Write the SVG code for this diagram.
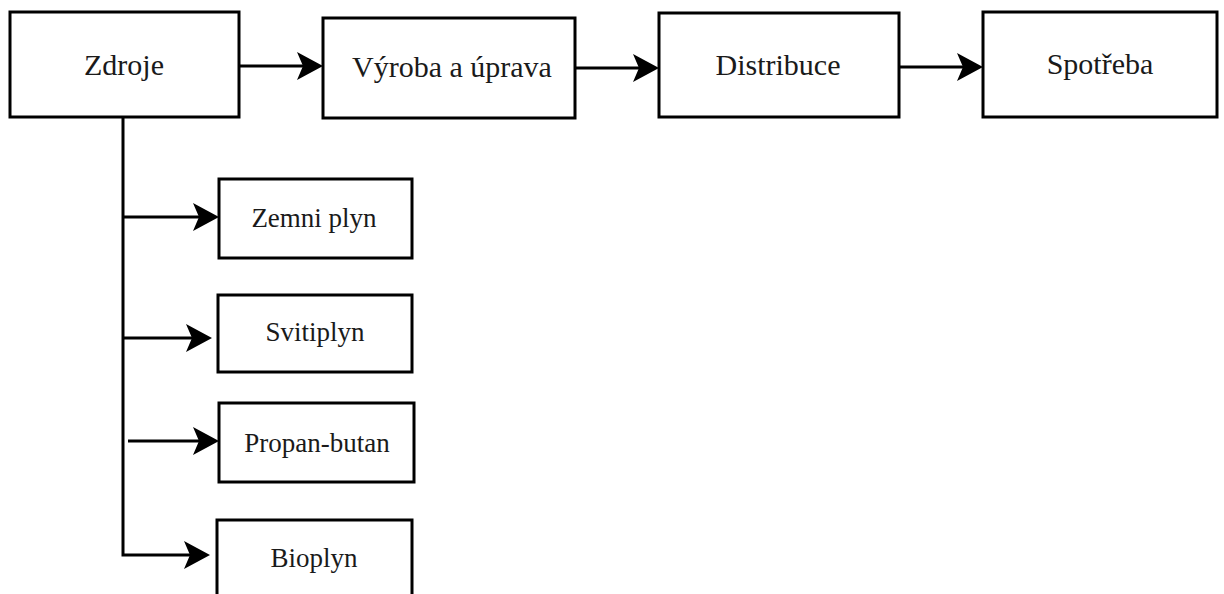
<svg xmlns="http://www.w3.org/2000/svg" width="1224" height="594" viewBox="0 0 1224 594">
<style>
.box{fill:#fff;stroke:#000;stroke-width:3}
.lbl{font-family:"Liberation Serif","Times New Roman",serif;font-size:30px;fill:#1a1a1a;text-anchor:middle}
.sm{font-size:27px}
.con{fill:none;stroke:#000;stroke-width:3}
</style>
<defs>
<marker id="ah" markerUnits="userSpaceOnUse" viewBox="0 0 26 28" refX="20" refY="14" markerWidth="26" markerHeight="28" orient="auto">
<path d="M0,0 L26,14 L0,28 L6,14 Z" fill="#000"/>
</marker>
</defs>
<rect width="1224" height="594" fill="#fff"/>
<g id="connectors">
<line class="con" x1="240" y1="66" x2="317" y2="66" marker-end="url(#ah)"/>
<line class="con" x1="576" y1="68" x2="653" y2="68" marker-end="url(#ah)"/>
<line class="con" x1="900" y1="67" x2="977" y2="67" marker-end="url(#ah)"/>
<path class="con" d="M123,118 V555 H204" marker-end="url(#ah)"/>
<line class="con" x1="123" y1="217" x2="213" y2="217" marker-end="url(#ah)"/>
<line class="con" x1="123" y1="338" x2="206" y2="338" marker-end="url(#ah)"/>
<line class="con" x1="128" y1="441" x2="213" y2="441" marker-end="url(#ah)"/>
</g>
<g id="zdroje"><rect class="box" x="10" y="12" width="229" height="105"/><text class="lbl" x="124" y="75">Zdroje</text></g>
<g id="vyroba"><rect class="box" x="323" y="18" width="252" height="100"/><text class="lbl" x="452" y="77">Výroba a úprava</text></g>
<g id="distribuce"><rect class="box" x="659" y="13" width="240" height="104"/><text class="lbl" x="778" y="75">Distribuce</text></g>
<g id="spotreba"><rect class="box" x="983" y="12" width="234" height="105"/><text class="lbl" x="1100" y="74">Spotřeba</text></g>
<g id="zemni"><rect class="box" x="219" y="179" width="193" height="79"/><text class="lbl sm" x="314" y="227">Zemni plyn</text></g>
<g id="svitiplyn"><rect class="box" x="218" y="295" width="194" height="77"/><text class="lbl sm" x="315" y="341">Svitiplyn</text></g>
<g id="propan"><rect class="box" x="219" y="403" width="195" height="79"/><text class="lbl sm" x="317" y="452">Propan-butan</text></g>
<g id="bioplyn"><rect class="box" x="217" y="520" width="195" height="90"/><text class="lbl sm" x="314" y="567">Bioplyn</text></g>
</svg>
